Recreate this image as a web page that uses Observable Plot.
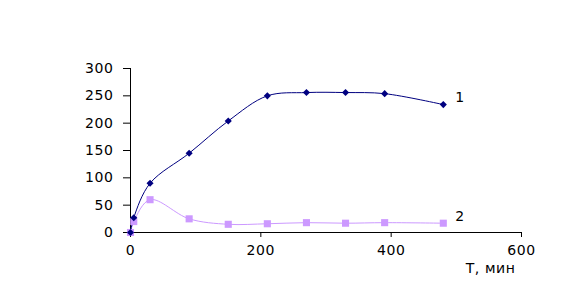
<!DOCTYPE html>
<html><head><meta charset="utf-8">
<script src="https://cdn.jsdelivr.net/npm/d3@7"></script>
<script src="https://cdn.jsdelivr.net/npm/@observablehq/plot@0.6"></script>
<style>body{margin:0;background:#fff} svg text{letter-spacing:0.6px}</style>
</head><body><div id="chart"></div>
<script>
const time1 = [0, 5, 30, 90, 150, 210, 270, 330, 390, 480];
const series1 = [0, 27, 90, 145, 204, 250, 256, 256, 254, 234];
const time2 = [0, 5, 30, 90, 150, 210, 270, 330, 390, 480];
const series2 = [0, 20, 60, 25, 15, 16, 18, 17, 18, 17];
const xTicks = [0, 200, 400, 600];
const yTicks = [0, 50, 100, 150, 200, 250, 300];
const seriesLabels = ["1", "2"];
const xLabel = "T, мин";

const d1 = time1.map((t, i) => ({t, v: series1[i]}));
const d2 = time2.map((t, i) => ({t, v: series2[i]}));
const last = [
  {t: time1[time1.length-1], v: series1[series1.length-1], label: seriesLabels[0]},
  {t: time2[time2.length-1], v: series2[series2.length-1], label: seriesLabels[1]}
];

const font = "DejaVu Sans, sans-serif";
const chart = Plot.plot({
  width: 585, height: 307,
  marginLeft: 130, marginRight: 64, marginTop: 68, marginBottom: 75,
  style: {fontFamily: font, fontSize: "14px", color: "#000", background: "#fff"},
  x: {domain: [0, 600]},
  y: {domain: [0, 300]},
  marks: [
    Plot.axisY({ticks: yTicks, tickSize: 7, tickPadding: 10, label: null, stroke: "#000", strokeOpacity: 1}),
    Plot.axisX({ticks: xTicks, tickSize: 5, tickPadding: 8, label: null, stroke: "#000", strokeOpacity: 1}),
    Plot.ruleX([0], {stroke: "#000"}),
    Plot.ruleY([0], {stroke: "#000"}),
    Plot.line(d2, {x: "t", y: "v", stroke: "#cc99ff", strokeWidth: 1, curve: "catmull-rom"}),
    Plot.line(d1, {x: "t", y: "v", stroke: "#000080", strokeWidth: 1, curve: "catmull-rom"}),
    Plot.dot(d2, {x: "t", y: "v", symbol: "square", r: 4, fill: "#cc99ff", stroke: "none"}),
    Plot.dot(d1, {x: "t", y: "v", symbol: "diamond2", r: 3.2, fill: "#000080", stroke: "none"}),
    Plot.text(last, {x: "t", y: "v", text: "label", textAnchor: "start", dx: 12, dy: -7, fill: "#000"}),
    Plot.text([xLabel], {frameAnchor: "bottom-right", textAnchor: "end", dy: 40, dx: -6, fill: "#000"})
  ]
});
document.getElementById("chart").appendChild(chart);
</script>
</body></html>
